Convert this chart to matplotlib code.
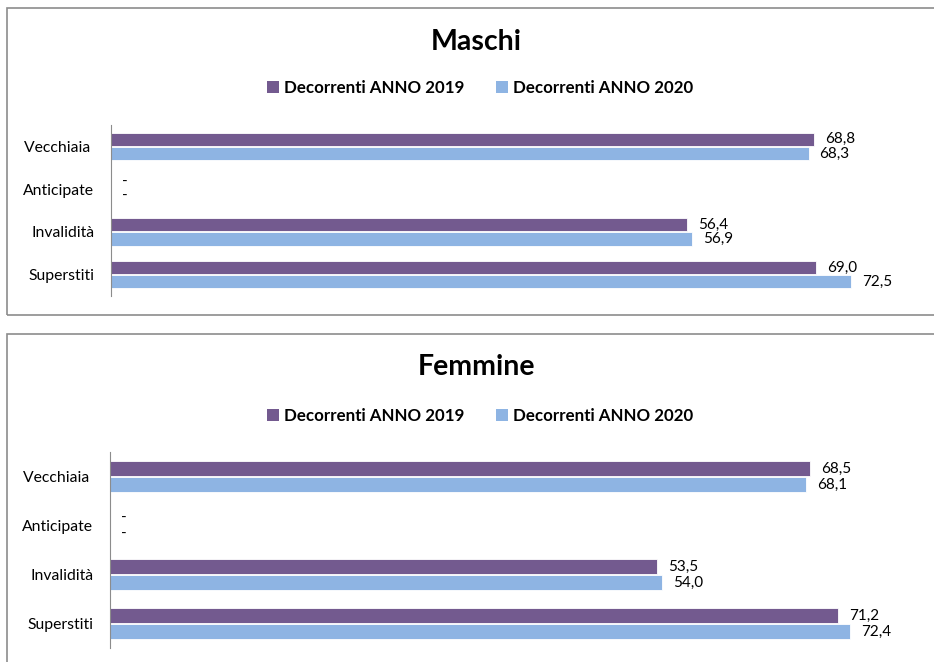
import numpy as np
import matplotlib.pyplot as plt
from matplotlib.patches import Patch, Rectangle

plt.rcParams['font.family'] = ['Lato', 'DejaVu Sans']

categorie = ['Vecchiaia ', 'Anticipate', 'Invalidità', 'Superstiti']
serie = ['Decorrenti ANNO 2019', 'Decorrenti ANNO 2020']
maschi_2019 = [68.8, np.nan, 56.4, 69.0]
maschi_2020 = [68.3, np.nan, 56.9, 72.5]
femmine_2019 = [68.5, np.nan, 53.5, 71.2]
femmine_2020 = [68.1, np.nan, 54.0, 72.4]

col_2019 = '#735a8f'
col_2020 = '#8eb4e3'


def etichetta(v):
    if np.isnan(v):
        return '-'
    return f'{v:.1f}'.replace('.', ',')


def pannello(ax, v2019, v2020):
    y = np.arange(len(categorie))
    for vals, off, col in [(v2019, -0.165, col_2019), (v2020, 0.165, col_2020)]:
        w = np.nan_to_num(np.array(vals, dtype=float))
        bars = ax.barh(y + off, w, height=0.31, color=col, edgecolor='white', linewidth=0.6)
        for b, v in zip(bars, vals):
            ax.annotate(etichetta(v), (b.get_width(), b.get_y() + b.get_height() / 2),
                        xytext=(8, 0), textcoords='offset points',
                        ha='left', va='center', fontsize=11, color='black')
    ax.set_xlim(0, 80)
    ax.set_ylim(3.5, -0.5)
    ax.set_yticks(y)
    ax.set_yticklabels(categorie, fontsize=11.3)
    ax.set_xticks([])
    ax.tick_params(axis='y', length=0, pad=12)
    for s in ['top', 'right', 'bottom']:
        ax.spines[s].set_visible(False)
    ax.spines['left'].set_color('#8c8c8c')
    ax.patch.set_alpha(0)


fig = plt.figure(figsize=(9.34, 6.62), dpi=100)

# cornici dei due grafici
fig.patches.append(Rectangle((7 / 934, 0.5242), 1.0, 0.4637, transform=fig.transFigure,
                             fill=False, edgecolor='#8c8c8c', linewidth=1.2))
fig.patches.append(Rectangle((7 / 934, -0.05), 1.0, 0.5455, transform=fig.transFigure,
                             fill=False, edgecolor='#8c8c8c', linewidth=1.2))

ax1 = fig.add_axes([111 / 934, 0.5529, 817 / 934, 0.2583])
pannello(ax1, maschi_2019, maschi_2020)
ax2 = fig.add_axes([110 / 934, 0.0211, 818 / 934, 0.2961])
pannello(ax2, femmine_2019, femmine_2020)

fig.text(0.51, 0.9366, 'Maschi', ha='center', va='center', fontsize=20.5, fontweight='bold')
fig.text(0.51, 0.446, 'Femmine', ha='center', va='center', fontsize=20.5, fontweight='bold')

maniglie = [Patch(facecolor=col_2019), Patch(facecolor=col_2020)]
for yl in [0.867, 0.372]:
    fig.legend(maniglie, serie, loc='center', bbox_to_anchor=(0.514, yl), ncol=2,
               frameon=False, prop={'weight': 'bold', 'size': 12.2},
               handlelength=0.7, handleheight=0.7, handletextpad=0.3, columnspacing=1.9)

fig.savefig('out.png', dpi=100)
